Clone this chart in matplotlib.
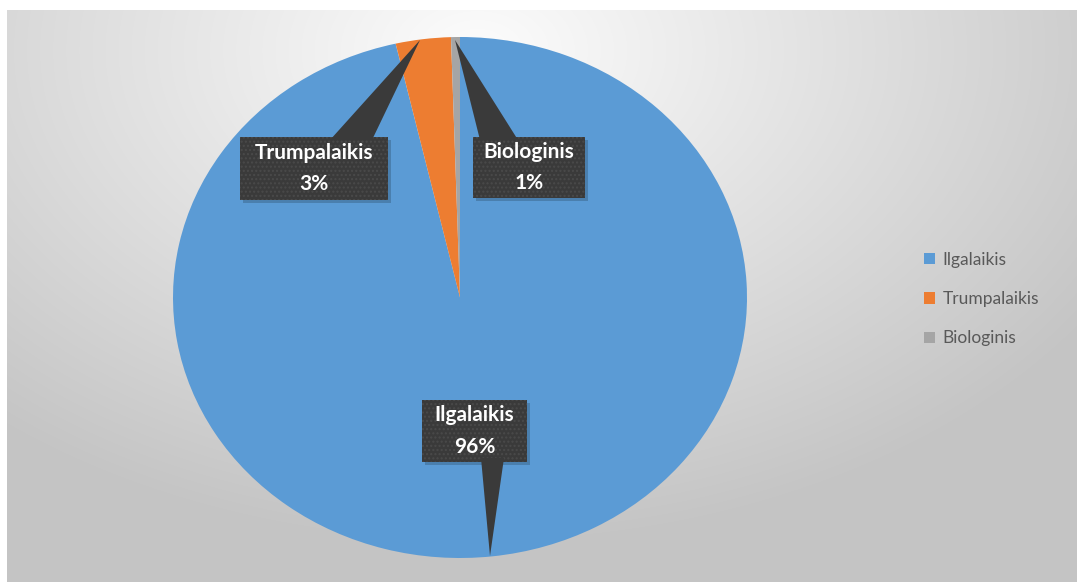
import numpy as np
import matplotlib
matplotlib.use("Agg")
import matplotlib.pyplot as plt
from matplotlib.patches import Polygon

categories = ["Ilgalaikis", "Trumpalaikis", "Biologinis"]
values = [96.4, 3.1, 0.5]
pct_labels = ["96%", "3%", "1%"]
colors = ["#5B9BD5", "#ED7D31", "#A5A5A5"]

W, H = 1077, 582
fig = plt.figure(figsize=(W / 100, H / 100), dpi=100)
fig.patch.set_facecolor("white")

# fonas: radialinis pilkas gradientas
bg = fig.add_axes([7 / W, 0, 1 - 7 / W, 1 - 10 / H])
bg.set_axis_off()
yy, xx = np.mgrid[0:572, 0:1070]
d = np.sqrt(((xx - 470) / 800.0) ** 2 + ((yy - 40) / 540.0) ** 2)
shade = np.clip(0.99 - 0.24 * d, 0.77, 0.99)
bg.imshow(np.dstack([shade] * 3), aspect="auto", extent=(0, 1, 0, 1), origin="upper")
bg.set_xlim(0, 1)
bg.set_ylim(0, 1)

# pyrago ašys (elipsė)
ax = fig.add_axes([173 / W, 24 / H, 574 / W, 521 / H])
wedges, _ = ax.pie(values, colors=colors, startangle=90, counterclock=False,
                   radius=1.0, wedgeprops=dict(linewidth=0))
ax.set_aspect("auto")
ax.set_xlim(-1, 1)
ax.set_ylim(-1, 1)
ax.set_axis_off()


def px(x, y):
    # pikseliai -> pyrago ašių koordinatės
    return ((x - 173) / 574 * 2 - 1, 1 - (y - 37) / 521 * 2)


def callout(box, tail, tip, text):
    x0, y0, x1, y1 = box
    pts = [px(x0, y0), px(x1, y0), px(x1, y1), px(x0, y1)]
    sh = [(p[0] + 3 / 287, p[1] - 3 / 260) for p in pts]
    ax.add_patch(Polygon(sh, closed=True, facecolor="#000000", alpha=0.18, lw=0, zorder=4))
    ax.add_patch(Polygon(pts, closed=True, facecolor="#3a3a3a", edgecolor="#4a4a4a",
                         hatch="....", lw=0, zorder=5))
    ax.add_patch(Polygon([px(*tail[0]), px(*tail[1]), px(*tip)], closed=True,
                         facecolor="#3a3a3a", lw=0, zorder=5))
    cx, cy = px((x0 + x1) / 2, (y0 + y1) / 2)
    ax.text(cx, cy, text, ha="center", va="center", color="white", fontsize=15,
            fontweight="bold", family=["Lato", "DejaVu Sans"], linespacing=1.7, zorder=6)


callout((240, 137, 388, 200), ((330, 140), (372, 140)), (420, 40),
        f"{categories[1]}\n{pct_labels[1]}")
callout((473, 137, 585, 198), ((480, 140), (518, 140)), (455, 40),
        f"{categories[2]}\n{pct_labels[2]}")
callout((422, 400, 527, 462), ((481, 458), (504, 458)), (490, 556),
        f"{categories[0]}\n{pct_labels[0]}")

leg = fig.legend(wedges, categories, loc="center left", bbox_to_anchor=(908 / W, 1 - 299 / H),
                 frameon=False, handlelength=0.65, handleheight=0.65, handletextpad=0.45,
                 labelspacing=1.35, prop=dict(family="Lato", size=12.5))
for t in leg.get_texts():
    t.set_color("#595959")

fig.savefig("out.png", dpi=100)
